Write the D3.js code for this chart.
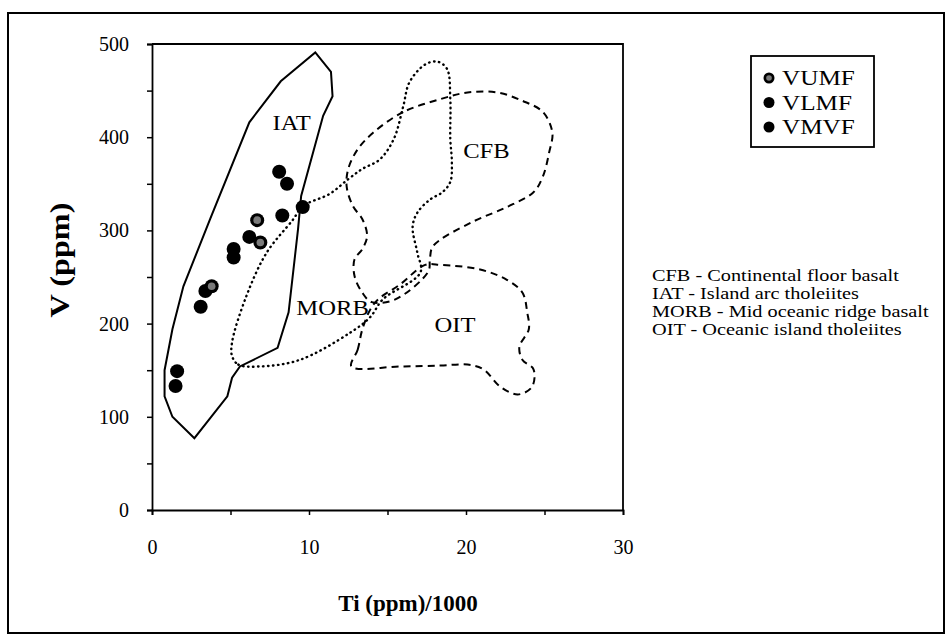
<!DOCTYPE html>
<html>
<head>
<meta charset="utf-8">
<script src="https://cdn.jsdelivr.net/npm/d3@7"></script>
<style>
  body { margin: 0; background: #fff; }
  svg text { font-family: "Liberation Serif", "Times New Roman", serif; fill: #000; }
</style>
</head>
<body>
<svg id="vis" width="950" height="639"></svg>
<script>
// field outlines, [Ti/1000, V]
const iatField = [[2.7,77],[1.3,100],[0.8,122],[0.8,150],[1.3,194],[2.0,240],[3.7,312],[6.2,416],[8.2,460],[10.4,491],[11.4,470],[11.5,444],[10.9,423],[9.5,337],[9.3,301],[8.7,212],[8.0,174],[5.6,154],[5.1,142],[4.8,122]];
const morbField = [[5.1,165],[5.5,156],[6.9,154],[9.4,161],[12.6,190],[13.9,207],[14.7,226],[17.1,255],[16.9,276],[16.6,304],[16.9,319],[17.7,333],[18.5,341],[19.0,352],[19.1,373],[19.0,398],[19.0,441],[18.8,473],[18.2,481],[17.4,478],[16.4,459],[16.0,433],[15.4,398],[14.5,376],[13.4,366],[12.5,355],[11.3,339],[9.6,326],[9.0,312],[7.3,276],[6.0,229],[5.1,180]];
const cfbField = [[18.4,441],[16.0,427],[14.1,405],[13.1,387],[12.5,366],[12.4,347],[12.8,326],[13.4,312],[13.7,294],[13.4,280],[12.9,269],[12.9,251],[13.4,233],[14.0,223],[15.5,226],[17.6,256],[17.7,269],[17.9,283],[20.4,309],[22.6,325],[24.3,341],[24.9,358],[25.3,384],[25.5,405],[24.9,427],[23.6,439],[22.0,448],[20.1,448]];
const oitField = [[12.7,154],[13.1,172],[13.4,194],[13.9,215],[14.4,226],[15.8,242],[17.4,263],[18.4,263],[20.9,258],[22.6,247],[23.6,233],[23.9,212],[24.0,194],[23.4,175],[23.6,161],[24.3,151],[24.2,132],[23.3,124],[22.2,132],[21.1,151],[20.1,156],[18.4,155],[15.8,154]];

// samples, [Ti/1000, V]
const vumf = [[3.8,240],[6.9,287],[6.7,311]];
const vlmf = [[1.6,149],[1.5,133],[3.1,218],[3.4,235],[5.2,271],[6.2,293]];
const vmvf = [[5.2,280],[8.3,316],[9.6,325],[8.1,363],[8.6,350]];

const seriesNames = ["VUMF", "VLMF", "VMVF"];
const fieldNames = ["IAT", "CFB", "MORB", "OIT"];
const fieldLabelAt = [[8.9,416],[21.3,386],[11.5,218],[19.3,199]];
const fieldNotes = ["CFB - Continental floor basalt", "IAT - Island arc tholeiites", "MORB - Mid oceanic ridge basalt", "OIT - Oceanic island tholeiites"];
const xTicks = [0, 5, 10, 15, 20, 25, 30];
const yTicks = [0, 50, 100, 150, 200, 250, 300, 350, 400, 450, 500];

translate = function(a, b) {
  return "translate(" + a + ", " + b + ")";
}

// the scanned figure is stretched sideways a little
const stretch = function(sx) {
  return " scale(" + sx + ", 1)";
}

const svg = d3.select("#vis");

// scanned page frame
svg.append("rect")
  .attr("x", 8).attr("y", 13).attr("width", 936).attr("height", 620)
  .attr("fill", "none").attr("stroke", "#000").attr("stroke-width", 2);

const x = d3.scaleLinear().domain([0, 30]).range([152, 623]);
const y = d3.scaleLinear().domain([0, 500]).range([510, 44]);

// plot box (top + right)
svg.append("path")
  .attr("d", "M" + x(0) + "," + y(500) + "H" + x(30) + "V" + y(0))
  .attr("fill", "none").attr("stroke", "#000").attr("stroke-width", 1.8);

const yAxis = svg.append("g")
  .attr("transform", translate(x(0), 0))
  .call(d3.axisLeft(y).tickValues(yTicks).tickSize(5).tickPadding(18)
    .tickFormat(d => d % 100 == 0 ? d : ""));
const xAxis = svg.append("g")
  .attr("transform", translate(0, y(0)))
  .call(d3.axisBottom(x).tickValues(xTicks).tickSize(5).tickPadding(25)
    .tickFormat(d => d % 10 == 0 ? d : ""));

[xAxis, yAxis].forEach(function(ax) {
  ax.select(".domain").attr("stroke-width", 1.8);
  ax.selectAll("line").attr("stroke-width", 1.5);
  ax.selectAll("text").style("font-family", "Liberation Serif").style("font-size", "20px");
});

svg.append("text")
  .attr("transform", translate(69, 260) + " rotate(-90)" + stretch(1.15))
  .attr("text-anchor", "middle")
  .style("font-weight", "bold").style("font-size", "28px")
  .text("V (ppm)");

svg.append("text")
  .attr("transform", translate(408, 611))
  .attr("text-anchor", "middle")
  .style("font-weight", "bold").style("font-size", "23px")
  .text("Ti (ppm)/1000");

// fields
const outline = d3.line().x(d => x(d[0])).y(d => y(d[1]));
const fields = [
  { pts: iatField, dash: null, curve: d3.curveLinearClosed },
  { pts: morbField, dash: "0.5,4.5", curve: d3.curveCatmullRomClosed },
  { pts: cfbField, dash: "7,5", curve: d3.curveCatmullRomClosed },
  { pts: oitField, dash: "7,5", curve: d3.curveCatmullRomClosed }
];
fields.forEach(function(f) {
  svg.append("path")
    .attr("d", outline.curve(f.curve)(f.pts))
    .attr("fill", "none")
    .attr("stroke", "#000")
    .attr("stroke-width", f.dash == "0.5,4.5" ? 2.4 : 2)
    .attr("stroke-linecap", f.dash == "0.5,4.5" ? "round" : "butt")
    .attr("stroke-dasharray", f.dash);
});

svg.selectAll(".fieldlabel")
  .data(fieldNames)
  .enter().append("text")
  .attr("class", "fieldlabel")
  .attr("transform", (d, i) => translate(x(fieldLabelAt[i][0]), y(fieldLabelAt[i][1])) + stretch(1.12))
  .attr("dy", "0.35em")
  .attr("text-anchor", "middle")
  .style("font-size", "22px")
  .text(d => d);

// points
function drawPoints(data, hollow) {
  const g = svg.append("g");
  g.selectAll("circle.o")
    .data(data)
    .enter().append("circle")
    .attr("cx", d => x(d[0]))
    .attr("cy", d => y(d[1]))
    .attr("r", 7)
    .attr("fill", "#000");
  if (hollow) {
    g.selectAll("circle.i")
      .data(data)
      .enter().append("circle")
      .attr("cx", d => x(d[0]))
      .attr("cy", d => y(d[1]))
      .attr("r", 3.8)
      .attr("fill", "#7a7a7a");
  }
}
drawPoints(vlmf, false);
drawPoints(vmvf, false);
drawPoints(vumf, true);

// legend
const legend = svg.append("g").attr("transform", translate(751, 56));
legend.append("rect")
  .attr("width", 123).attr("height", 91)
  .attr("fill", "#fff").attr("stroke", "#000").attr("stroke-width", 1.8);
const rows = legend.selectAll(".row")
  .data(seriesNames)
  .enter().append("g")
  .attr("transform", (d, i) => translate(18, 22 + i * 24.5));
rows.append("circle").attr("r", 5.5).attr("fill", "#000");
rows.filter((d, i) => i == 0).append("circle").attr("r", 2.8).attr("fill", "#7a7a7a");
rows.append("text")
  .attr("transform", translate(13, 0) + stretch(1.2))
  .attr("dy", "0.35em")
  .style("font-size", "21px")
  .text(d => d);

// field notes
svg.selectAll(".note")
  .data(fieldNotes)
  .enter().append("text")
  .attr("class", "note")
  .attr("transform", (d, i) => translate(652, 281 + i * 18) + stretch(1.16))
  .style("font-size", "17.5px")
  .text(d => d);
</script>
</body>
</html>
